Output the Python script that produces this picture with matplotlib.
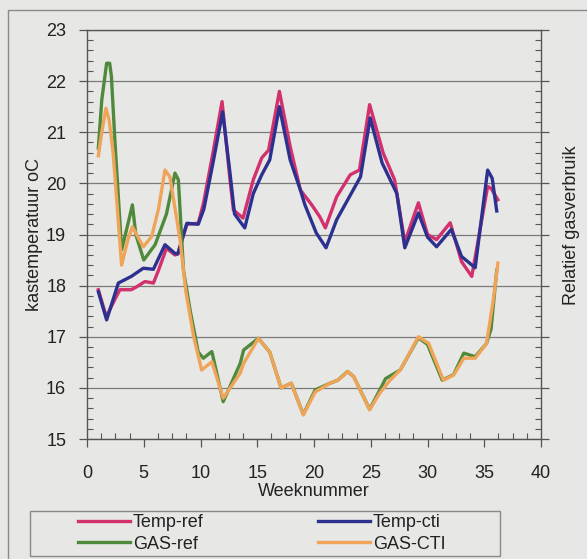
import matplotlib
matplotlib.use("Agg")
import matplotlib.pyplot as plt
from matplotlib.ticker import AutoMinorLocator
from matplotlib.patches import Rectangle

# ---------------- data ----------------
temp_ref_wk = [1.0, 1.7, 2.5, 2.9, 3.9, 4.4, 5.1, 5.85, 6.3, 7.0, 7.75, 8.0, 8.8, 9.8,
               10.25, 11.1, 11.9, 12.6, 12.9, 13.75, 14.65, 15.4, 16.0, 16.95, 17.9,
               18.8, 19.8, 20.5, 21.0, 22.0, 23.2, 24.0, 24.9, 26.1, 27.1, 28.0, 29.2,
               30.0, 30.8, 32.0, 33.0, 33.9, 35.3, 35.6, 36.2]
temp_ref = [17.92, 17.39, 17.75, 17.92, 17.92, 17.98, 18.08, 18.05, 18.3, 18.73, 18.6,
            18.62, 19.2, 19.22, 19.6, 20.6, 21.6, 20.07, 19.48, 19.32, 20.07, 20.5,
            20.65, 21.8, 20.72, 19.87, 19.58, 19.35, 19.13, 19.74, 20.17, 20.26, 21.54,
            20.59, 20.07, 18.85, 19.62, 19.0, 18.9, 19.23, 18.47, 18.18, 19.94, 19.9, 19.68]

temp_cti_wk = [1.0, 1.73, 2.76, 3.9, 4.96, 5.85, 6.87, 7.75, 8.0, 8.8, 9.8, 10.3, 11.1,
               11.95, 12.6, 13.0, 13.9, 14.65, 15.4, 16.1, 16.95, 17.9, 18.8, 19.2, 20.2,
               21.06, 22.0, 23.2, 24.1, 24.95, 26.0, 27.3, 28.0, 29.2, 30.0, 30.8, 32.1,
               33.0, 34.2, 35.3, 35.7, 36.1]
temp_cti = [17.88, 17.33, 18.05, 18.18, 18.34, 18.32, 18.8, 18.63, 18.62, 19.22, 19.2,
            19.5, 20.4, 21.4, 20.2, 19.4, 19.13, 19.8, 20.17, 20.46, 21.5, 20.46, 19.87,
            19.58, 19.03, 18.74, 19.29, 19.77, 20.13, 21.28, 20.4, 19.8, 18.74, 19.42,
            18.95, 18.76, 19.1, 18.57, 18.35, 20.26, 20.1, 19.46]

gas_ref_wk = [1.0, 1.3, 1.73, 2.0, 2.15, 2.47, 3.05, 3.6, 4.0, 4.3, 5.0, 6.0, 7.0, 7.75,
              8.05, 8.5, 9.1, 9.8, 10.25, 11.0, 12.0, 13.5, 13.8, 15.1, 16.1, 17.1, 18.0,
              19.06, 20.1, 21.4, 22.1, 22.95, 23.5, 24.9, 25.8, 26.3, 27.6, 29.2, 30.0,
              31.3, 32.3, 33.2, 34.2, 35.2, 35.6, 36.1]
gas_ref = [20.69, 21.63, 22.35, 22.35, 22.09, 20.79, 18.7, 19.2, 19.58, 19.0, 18.5, 18.8,
           19.4, 20.2, 20.07, 18.3, 17.5, 16.7, 16.58, 16.71, 15.73, 16.48, 16.74, 16.97,
           16.7, 16.0, 16.09, 15.48, 15.96, 16.09, 16.15, 16.32, 16.22, 15.58, 15.96,
           16.18, 16.35, 16.98, 16.85, 16.15, 16.26, 16.68, 16.61, 16.87, 17.15, 18.3]

gas_cti_wk = [1.0, 1.3, 1.67, 1.95, 2.3, 3.05, 3.6, 4.0, 4.96, 5.7, 6.3, 6.87, 7.3, 8.2,
              8.7, 9.4, 10.1, 11.0, 12.0, 13.5, 13.8, 15.1, 16.1, 17.1, 18.0, 19.06, 20.1,
              21.4, 22.1, 23.0, 23.5, 24.9, 25.8, 26.7, 27.6, 29.2, 30.1, 31.4, 32.3, 33.2,
              34.2, 35.2, 35.8, 36.2]
gas_cti = [20.54, 21.0, 21.47, 21.24, 20.6, 18.4, 18.9, 19.15, 18.76, 18.96, 19.5, 20.26,
           20.13, 18.9, 17.9, 17.0, 16.35, 16.51, 15.8, 16.29, 16.48, 16.97, 16.7, 16.0,
           16.09, 15.47, 15.92, 16.09, 16.15, 16.32, 16.22, 15.57, 15.9, 16.15, 16.35,
           17.0, 16.87, 16.15, 16.25, 16.58, 16.58, 16.87, 17.72, 18.44]

labels = ["Temp-ref", "GAS-ref", "Temp-cti", "GAS-CTI"]
x_ticks = [0, 5, 10, 15, 20, 25, 30, 35, 40]
y_ticks = [15, 16, 17, 18, 19, 20, 21, 22, 23]

# ---------------- styling ----------------
plt.rcParams['font.family'] = ['Liberation Sans', 'DejaVu Sans']
BG = '#e7e7e5'
C_PINK = '#d3306e'
C_BLUE = '#2c3190'
C_GREEN = '#4f8a3c'
C_ORANGE = '#f0a458'
AXC = '#555555'
TXT = '#222222'

W, H = 587, 559
fig = plt.figure(figsize=(W / 100, H / 100), dpi=100, facecolor=BG)
ax = fig.add_axes([87 / W, 1 - 439 / H, (541 - 87) / W, (439 - 30) / H])
ax.set_facecolor(BG)

lw = 2.4
l_pink, = ax.plot(temp_ref_wk, temp_ref, color=C_PINK, lw=lw, solid_joinstyle='round', zorder=3)
l_blue, = ax.plot(temp_cti_wk, temp_cti, color=C_BLUE, lw=lw, solid_joinstyle='round', zorder=4)
l_green, = ax.plot(gas_ref_wk, gas_ref, color=C_GREEN, lw=lw, solid_joinstyle='round', zorder=5)
l_orange, = ax.plot(gas_cti_wk, gas_cti, color=C_ORANGE, lw=lw, solid_joinstyle='round', zorder=6)

ax.set_xlim(0, 40)
ax.set_ylim(15, 23)
ax.set_xticks(x_ticks)
ax.set_yticks(y_ticks)
ax.xaxis.set_minor_locator(AutoMinorLocator(4))
ax.yaxis.set_minor_locator(AutoMinorLocator(5))
ax.grid(axis='y', which='major', color='#7a7a7a', lw=0.9, zorder=1)
for s in ax.spines.values():
    s.set_color(AXC)
    s.set_linewidth(1.0)

ax.tick_params(axis='both', which='major', direction='out', length=6, width=0.9,
               color=AXC, labelsize=13, labelcolor=TXT)
ax.tick_params(axis='both', which='minor', direction='in', length=4, width=0.8, color=AXC)
ax.tick_params(axis='y', which='both', right=True, labelright=False)
ax.tick_params(axis='y', which='major', pad=9)
ax.tick_params(axis='x', which='major', pad=13)

ax.set_xlabel("Weeknummer", fontsize=13, color=TXT, labelpad=0.5)
ax.set_ylabel("kastemperatuur oC", fontsize=13, color=TXT, labelpad=2)
fig.text(572 / W, 1 - 225 / H, "Relatief gasverbruik", rotation=90, fontsize=13,
         color=TXT, ha='center', va='center')

# outer frame
fig.patches.append(Rectangle((8 / W, -0.1), 1.2, 1 - 10 / H + 0.1, transform=fig.transFigure,
                             fill=False, edgecolor='#8a8a8a', lw=1.0))
# legend frame
fig.patches.append(Rectangle((30 / W, 1 - 556 / H), 470 / W, 45 / H, transform=fig.transFigure,
                             fill=False, edgecolor='#8a8a8a', lw=1.0))

leg = fig.legend([l_pink, l_green, l_blue, l_orange], labels, ncol=2,
                 loc='upper left', bbox_to_anchor=(78 / W, 1 - 514 / H),
                 frameon=False, fontsize=13, handlelength=2.9,
                 handletextpad=0.15, borderpad=0.0, labelspacing=0.26,
                 columnspacing=6.3, borderaxespad=0)
for t in leg.get_texts():
    t.set_color(TXT)

fig.savefig("out.png", dpi=100, facecolor=BG)
